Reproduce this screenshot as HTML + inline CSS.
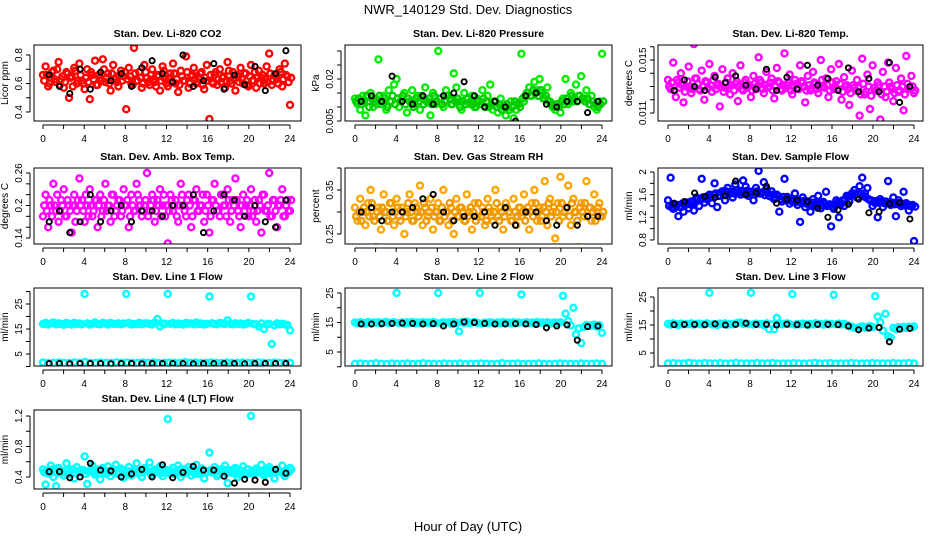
<!DOCTYPE html>
<html><head><meta charset="utf-8"><style>
body{margin:0;background:#fff}
svg{display:block;font-family:"Liberation Sans",sans-serif}
</style></head><body>
<svg id="c" width="936" height="540"></svg>
<script>
const hourTicks=[0,4,8,12,16,20,24];
const co2Color=[0.66,0.72,0.58,0.64,0.69,0.61,0.75,0.63,0.57,0.68,0.50,0.65,0.71,0.60,0.74,0.62,0.56,0.70,0.49,0.66,0.76,0.59,0.64,0.77,0.61,0.67,0.55,0.73,0.63,0.58,0.69,0.65,0.42,0.71,0.60,0.85,0.62,0.68,0.57,0.73,0.64,0.59,0.70,0.61,0.66,0.55,0.72,0.63,0.58,0.67,0.74,0.60,0.54,0.69,0.62,0.79,0.57,0.65,0.71,0.60,0.63,0.68,0.56,0.73,0.35,0.61,0.66,0.59,0.70,0.64,0.57,0.75,0.62,0.68,0.55,0.65,0.71,0.60,0.67,0.58,0.73,0.62,0.57,0.69,0.64,0.60,0.72,0.81,0.59,0.66,0.63,0.70,0.58,0.74,0.65,0.45];
const co2Color2=[0.62,0.66,0.60,0.68,0.63,0.70,0.59,0.65,0.61,0.67,0.64,0.58,0.69,0.62,0.66,0.60,0.64,0.61,0.68,0.63,0.59,0.66,0.62,0.70,0.64,0.60,0.67,0.63,0.61,0.66,0.62,0.68,0.63,0.65,0.59,0.67,0.62,0.64,0.60,0.68,0.61,0.66,0.63,0.58,0.65,0.62,0.69,0.60,0.64,0.61,0.67,0.63,0.59,0.65,0.62,0.68,0.60,0.66,0.63,0.61,0.67,0.59,0.64,0.62,0.66,0.60,0.68,0.63,0.61,0.65,0.62,0.69,0.60,0.64,0.66,0.61,0.63,0.67,0.59,0.65,0.62,0.68,0.64,0.60,0.66,0.63,0.61,0.67,0.62,0.65,0.60,0.68,0.63,0.66,0.61,0.64];
const co2Black=[0.66,0.58,0.53,0.70,0.56,0.68,0.62,0.67,0.58,0.71,0.76,0.67,0.61,0.80,0.58,0.62,0.74,0.56,0.66,0.59,0.72,0.55,0.67,0.83];
const presColor=[0.013,0.011,0.009,0.014,0.007,0.012,0.015,0.010,0.013,0.027,0.011,0.014,0.009,0.016,0.012,0.018,0.020,0.010,0.013,0.015,0.008,0.012,0.016,0.011,0.014,0.009,0.013,0.017,0.012,0.007,0.015,0.011,0.030,0.013,0.010,0.016,0.014,0.011,0.022,0.017,0.012,0.009,0.015,0.013,0.011,0.014,0.010,0.013,0.012,0.016,0.010,0.014,0.018,0.009,0.012,0.008,0.013,0.011,0.007,0.010,0.012,0.006,0.009,0.011,0.029,0.012,0.015,0.017,0.014,0.019,0.016,0.020,0.015,0.013,0.017,0.012,0.010,0.009,0.011,0.008,0.013,0.020,0.011,0.015,0.012,0.018,0.014,0.021,0.013,0.016,0.011,0.014,0.010,0.009,0.012,0.029];
const presColor2=[0.012,0.013,0.011,0.012,0.014,0.010,0.013,0.012,0.011,0.014,0.012,0.013,0.010,0.012,0.014,0.011,0.013,0.012,0.014,0.011,0.013,0.012,0.010,0.013,0.012,0.014,0.011,0.012,0.013,0.011,0.014,0.012,0.013,0.011,0.012,0.014,0.013,0.011,0.012,0.013,0.010,0.012,0.011,0.013,0.012,0.011,0.010,0.012,0.011,0.013,0.012,0.010,0.011,0.012,0.010,0.011,0.009,0.010,0.011,0.009,0.010,0.012,0.011,0.010,0.013,0.014,0.015,0.014,0.016,0.015,0.014,0.016,0.013,0.014,0.012,0.011,0.010,0.011,0.010,0.012,0.011,0.013,0.012,0.014,0.013,0.012,0.014,0.013,0.012,0.013,0.011,0.012,0.011,0.010,0.011,0.012];
const presBlack=[0.012,0.014,0.012,0.021,0.012,0.011,0.014,0.011,0.014,0.015,0.019,0.014,0.010,0.012,0.010,0.005,0.014,0.015,0.011,0.010,0.012,0.012,0.008,0.012];
const tempColor=[0.0135,0.0128,0.0148,0.0122,0.0133,0.0140,0.0118,0.0130,0.0145,0.0125,0.0162,0.0136,0.0128,0.0142,0.0120,0.0133,0.0147,0.0126,0.0138,0.0131,0.0115,0.0143,0.0129,0.0136,0.0124,0.0140,0.0132,0.0119,0.0146,0.0127,0.0135,0.0130,0.0122,0.0138,0.0128,0.0152,0.0133,0.0125,0.0141,0.0130,0.0136,0.0121,0.0144,0.0133,0.0127,0.0155,0.0131,0.0139,0.0124,0.0135,0.0129,0.0146,0.0133,0.0118,0.0138,0.0127,0.0141,0.0132,0.0125,0.0150,0.0130,0.0136,0.0122,0.0143,0.0128,0.0134,0.0147,0.0120,0.0137,0.0131,0.0116,0.0142,0.0129,0.0135,0.0108,0.0151,0.0124,0.0139,0.0113,0.0146,0.0127,0.0133,0.0105,0.0141,0.0122,0.0148,0.0130,0.0119,0.0144,0.0126,0.0136,0.0112,0.0153,0.0129,0.0138,0.0125];
const tempColor2=[0.0130,0.0133,0.0127,0.0135,0.0129,0.0131,0.0126,0.0134,0.0130,0.0128,0.0136,0.0132,0.0127,0.0130,0.0134,0.0129,0.0131,0.0135,0.0128,0.0132,0.0130,0.0126,0.0133,0.0129,0.0131,0.0127,0.0134,0.0130,0.0128,0.0133,0.0129,0.0131,0.0127,0.0132,0.0130,0.0135,0.0128,0.0131,0.0129,0.0133,0.0127,0.0130,0.0134,0.0128,0.0131,0.0129,0.0133,0.0127,0.0130,0.0132,0.0128,0.0134,0.0130,0.0127,0.0131,0.0129,0.0133,0.0128,0.0130,0.0135,0.0129,0.0131,0.0127,0.0133,0.0130,0.0128,0.0132,0.0126,0.0130,0.0128,0.0125,0.0131,0.0127,0.0129,0.0124,0.0132,0.0126,0.0130,0.0123,0.0129,0.0127,0.0131,0.0124,0.0130,0.0126,0.0133,0.0128,0.0125,0.0131,0.0127,0.0130,0.0124,0.0132,0.0128,0.0130,0.0127];
const tempBlack=[0.0127,0.0135,0.0130,0.0127,0.0137,0.0133,0.0138,0.0131,0.0128,0.0143,0.0127,0.0137,0.0128,0.0146,0.0131,0.0136,0.0127,0.0144,0.0126,0.0136,0.0126,0.0148,0.0118,0.0130];
const boxColor=[0.18,0.22,0.16,0.20,0.24,0.19,0.17,0.21,0.23,0.18,0.20,0.15,0.22,0.19,0.25,0.21,0.17,0.20,0.23,0.18,0.21,0.16,0.22,0.19,0.24,0.20,0.17,0.22,0.19,0.21,0.18,0.23,0.20,0.16,0.22,0.19,0.24,0.21,0.18,0.20,0.26,0.19,0.22,0.17,0.21,0.23,0.20,0.18,0.13,0.22,0.19,0.21,0.17,0.24,0.20,0.18,0.22,0.16,0.21,0.23,0.19,0.20,0.17,0.22,0.15,0.21,0.24,0.19,0.18,0.22,0.20,0.23,0.17,0.21,0.25,0.19,0.16,0.22,0.20,0.18,0.23,0.19,0.17,0.21,0.15,0.22,0.19,0.26,0.18,0.21,0.16,0.20,0.23,0.18,0.21,0.19];
const boxColor2=[0.20,0.19,0.21,0.18,0.20,0.22,0.19,0.20,0.18,0.21,0.19,0.20,0.17,0.21,0.20,0.19,0.22,0.18,0.20,0.19,0.21,0.20,0.18,0.21,0.19,0.20,0.22,0.18,0.20,0.21,0.19,0.20,0.21,0.18,0.20,0.19,0.22,0.20,0.19,0.21,0.18,0.20,0.21,0.19,0.20,0.18,0.22,0.20,0.19,0.21,0.20,0.18,0.20,0.22,0.19,0.21,0.20,0.18,0.21,0.19,0.20,0.22,0.19,0.20,0.18,0.21,0.20,0.19,0.22,0.20,0.18,0.21,0.19,0.20,0.21,0.18,0.20,0.19,0.21,0.20,0.18,0.21,0.19,0.20,0.22,0.19,0.20,0.18,0.21,0.19,0.20,0.21,0.18,0.20,0.19,0.21];
const boxBlack=[0.17,0.19,0.15,0.17,0.22,0.17,0.19,0.20,0.17,0.19,0.19,0.18,0.20,0.20,0.22,0.15,0.19,0.22,0.21,0.18,0.20,0.17,0.16,0.21];
const rhColor=[0.31,0.28,0.33,0.30,0.27,0.32,0.35,0.29,0.22,0.31,0.26,0.34,0.30,0.28,0.32,0.27,0.33,0.29,0.31,0.25,0.30,0.34,0.28,0.32,0.30,0.36,0.27,0.31,0.29,0.33,0.26,0.30,0.32,0.28,0.35,0.30,0.27,0.31,0.25,0.33,0.29,0.31,0.28,0.34,0.30,0.26,0.32,0.29,0.21,0.31,0.27,0.33,0.30,0.28,0.35,0.29,0.31,0.26,0.32,0.30,0.28,0.33,0.27,0.31,0.29,0.34,0.30,0.26,0.32,0.35,0.28,0.31,0.29,0.37,0.27,0.33,0.30,0.24,0.32,0.38,0.29,0.31,0.36,0.27,0.33,0.30,0.22,0.32,0.29,0.37,0.31,0.28,0.34,0.30,0.32,0.29];
const rhColor2=[0.29,0.30,0.28,0.31,0.30,0.29,0.32,0.28,0.30,0.29,0.31,0.30,0.28,0.32,0.29,0.30,0.31,0.28,0.30,0.29,0.32,0.30,0.28,0.31,0.29,0.30,0.32,0.28,0.30,0.31,0.29,0.30,0.28,0.31,0.29,0.30,0.32,0.28,0.30,0.29,0.31,0.30,0.28,0.29,0.31,0.30,0.28,0.32,0.29,0.30,0.28,0.31,0.29,0.30,0.32,0.28,0.30,0.29,0.31,0.30,0.28,0.30,0.29,0.31,0.30,0.28,0.31,0.30,0.29,0.32,0.30,0.28,0.31,0.30,0.32,0.29,0.31,0.30,0.28,0.32,0.30,0.31,0.29,0.32,0.30,0.28,0.31,0.30,0.32,0.29,0.31,0.30,0.28,0.31,0.29,0.30];
const rhBlack=[0.30,0.31,0.28,0.30,0.30,0.31,0.33,0.34,0.30,0.28,0.29,0.29,0.30,0.27,0.31,0.27,0.30,0.30,0.28,0.27,0.31,0.27,0.29,0.29];
const flowColor=[1.50,1.90,1.35,1.42,1.22,1.38,1.30,1.45,1.36,1.48,1.32,1.55,1.40,1.88,1.46,1.52,1.60,1.45,1.80,1.38,1.58,1.66,1.50,1.72,1.62,1.55,1.78,1.68,1.60,1.85,1.74,1.58,1.65,1.50,1.72,2.02,1.62,1.82,1.70,1.58,1.66,1.52,1.60,1.30,1.48,1.88,1.56,1.44,1.50,1.62,1.42,1.12,1.55,1.38,1.48,1.30,1.52,1.40,1.58,1.36,1.47,1.65,1.42,1.04,1.35,1.50,1.20,1.44,1.40,1.58,1.48,1.62,1.68,1.55,1.75,1.90,1.62,1.72,1.50,1.40,1.45,1.20,1.52,1.38,1.48,1.84,1.42,1.55,1.22,1.50,1.40,1.65,1.45,1.32,1.40,0.78];
const flowColor2=[1.40,1.38,1.36,1.42,1.39,1.44,1.41,1.46,1.43,1.48,1.46,1.52,1.50,1.55,1.53,1.58,1.56,1.60,1.62,1.58,1.64,1.61,1.66,1.63,1.65,1.62,1.68,1.64,1.66,1.61,1.67,1.63,1.65,1.60,1.66,1.62,1.64,1.59,1.63,1.57,1.60,1.55,1.58,1.52,1.56,1.50,1.54,1.49,1.52,1.47,1.50,1.46,1.49,1.44,1.47,1.43,1.46,1.42,1.45,1.41,1.44,1.40,1.43,1.39,1.42,1.46,1.44,1.50,1.52,1.56,1.58,1.62,1.60,1.64,1.61,1.58,1.55,1.52,1.50,1.47,1.49,1.46,1.48,1.45,1.47,1.44,1.46,1.43,1.45,1.42,1.44,1.41,1.43,1.40,1.42,1.39];
const flowBlack=[1.45,1.48,1.63,1.57,1.55,1.58,1.84,1.60,1.63,1.75,1.45,1.52,1.50,1.48,1.36,1.20,1.33,1.43,1.52,1.28,1.30,1.44,1.46,1.17];
const line1High=[17,17.5,16.8,17.2,17.6,16.9,17.3,17,16.7,17.4,17.1,16.8,17.5,17,17.2,16.9,29,17.3,16.8,17.1,17.6,17,16.9,17.4,17.2,16.8,17.5,17.1,17,17.3,16.9,17.2,29,17.4,16.8,17.1,17,17.5,16.9,17.2,17.3,17,16.8,17.6,19,16,17.2,17,29,17.1,17.4,16.9,17.2,17,16.8,17.5,17.1,17.3,16.9,17.6,17,17.2,16.8,17.1,28,17.3,17,16.9,17.4,17.2,17,18.5,17.1,16.9,17.3,17,17.2,16.8,17.1,17.4,28,17,16.9,16,17.2,15,16.8,17.1,9,16.5,17.3,16.9,17.1,16.8,16.6,14.5];
const line1Low=[1.6,1.4,1.5,1.7,1.5,1.4,1.6,1.5,1.8,1.4,1.5,1.6,1.5,1.4,1.7,1.5,1.6,1.5,1.4,1.6,1.5,1.7,1.4,1.5,1.6,1.5,1.4,1.8,1.5,1.6,1.4,1.5,1.7,1.5,1.4,1.6,1.5,1.5,1.6,1.4,1.5,1.7,1.5,1.4,1.6,1.5,1.4,1.5];
const line1Black=[1.2,1.2,1.1,1.2,1.2,1.2,1.1,1.2,1.2,1.1,1.2,1.2,1.2,1.2,1.1,1.2,1.2,1.2,1.2,1.1,1.2,1.2,1.2,1.2];
const line2High=[15,14.7,15.1,14.9,14.6,15.2,14.8,15,14.9,15.1,14.7,15,15.2,14.8,14.9,15.1,25,14.8,15,14.6,15.1,14.9,15.2,14.7,15,14.8,15.1,14.9,15,14.7,15.2,14.9,25,14.8,15.1,14.9,15,14.6,15.2,14.8,12,15.1,14.9,15.3,14.8,15,15.2,14.9,25,14.7,15,14.8,15.1,14.9,14.6,15,14.8,15.2,14.9,15,14.7,15.1,14.8,15,24.5,14.9,15.1,14.8,15,14.7,15.2,14.9,15,14.8,15.1,14.6,14.9,15,14.8,15.1,24,18,15.5,14,20,11,13,8,13.5,14.2,13.8,14,14.3,13.6,14.1,11.5];
const line2Low=[1,1.1,0.9,1,1.2,1,0.9,1.1,1,1,1.1,0.9,1,1.2,1,1,0.9,1.1,1,1,1.1,0.9,1,1,1.1,1,0.9,1,1.2,1,1,1.1,0.9,1,1,1.1,1,0.9,1,1.1,1,1,0.9,1.1,1,1,1.1,1];
const line2Black=[14.5,14.5,14.6,14.7,14.8,14.7,14.5,14.6,13.8,14.5,15.2,15,14.7,14.5,14.5,14.6,14.5,14.3,13.2,13.8,14.2,9,13.6,13.8];
const line3High=[15.4,15.1,15.6,15.3,15.0,15.5,15.2,15.4,15.3,15.6,15.1,15.4,15.5,15.2,15.3,15.6,26.5,15.2,15.4,15.0,15.5,15.3,15.6,15.1,15.4,15.2,15.5,15.8,15.9,15.4,15.6,15.3,26.5,15.2,15.5,15.3,15.4,15.0,15.6,13.5,15.2,13.5,17.5,15.6,15.2,15.4,15.6,15.3,26,15.1,15.4,15.2,15.5,15.3,15.0,15.4,15.2,15.6,15.3,15.4,15.1,15.5,15.2,15.4,25.8,15.3,15.5,15.2,15.4,15.1,14.6,14.3,14.0,13.8,14.2,14.5,14.0,14.4,14.6,14.3,25.3,18,16,13,19,11,10.5,14,13.5,14.2,13.8,14.3,13.9,14.4,14.1,14.5];
const line3Low=[1.3,1.4,1.2,1.3,1.5,1.3,1.2,1.4,1.3,1.3,1.4,1.2,1.3,1.5,1.3,1.3,1.2,1.4,1.3,1.3,1.4,1.2,1.3,1.3,1.4,1.3,1.2,1.3,1.5,1.3,1.3,1.4,1.2,1.3,1.3,1.4,1.3,1.2,1.3,1.4,1.3,1.3,1.2,1.4,1.3,1.3,1.4,1.3];
const line3Black=[15.1,15.2,15.2,15.1,15.4,15.0,15.2,15.6,15.2,15.2,15.0,15.3,15.1,15.0,15.2,15.2,15.1,14.6,13.3,13.9,14.1,9,13.5,13.8];
const ltColor=[0.50,0.30,0.45,0.55,0.40,0.28,0.52,0.47,0.42,0.58,0.44,0.50,0.38,0.53,0.46,0.49,0.67,0.31,0.48,0.55,0.43,0.50,0.37,0.52,0.46,0.54,0.41,0.49,0.56,0.44,0.51,0.39,0.47,0.53,0.42,0.50,0.58,0.45,0.40,0.52,0.48,0.59,0.43,0.50,0.46,0.54,0.41,0.49,1.16,0.44,0.52,0.47,0.55,0.40,0.50,0.45,0.53,0.42,0.48,0.56,0.44,0.51,0.38,0.47,0.72,0.46,0.53,0.41,0.50,0.47,0.55,0.32,0.49,0.45,0.52,0.40,0.48,0.54,0.43,0.50,1.20,0.44,0.51,0.46,0.56,0.42,0.49,0.53,0.45,0.38,0.50,0.47,0.55,0.41,0.48,0.52];
const ltColor2=[0.46,0.48,0.44,0.50,0.47,0.45,0.49,0.46,0.48,0.44,0.47,0.50,0.45,0.48,0.46,0.49,0.44,0.47,0.50,0.46,0.48,0.45,0.49,0.47,0.44,0.48,0.46,0.50,0.45,0.47,0.49,0.46,0.48,0.44,0.47,0.50,0.45,0.48,0.46,0.49,0.47,0.44,0.48,0.46,0.50,0.45,0.47,0.49,0.46,0.48,0.44,0.47,0.50,0.45,0.48,0.46,0.49,0.47,0.44,0.48,0.46,0.50,0.45,0.47,0.49,0.46,0.48,0.44,0.47,0.50,0.45,0.48,0.46,0.49,0.47,0.44,0.48,0.46,0.50,0.45,0.47,0.49,0.46,0.48,0.44,0.47,0.50,0.45,0.48,0.46,0.49,0.47,0.44,0.48,0.46,0.50];
const ltBlack=[0.47,0.47,0.39,0.40,0.58,0.49,0.48,0.40,0.44,0.50,0.40,0.56,0.39,0.46,0.54,0.49,0.49,0.41,0.32,0.37,0.36,0.33,0.50,0.45];

const svg=document.getElementById('c');
const NS='http://www.w3.org/2000/svg';
function mk(tag,attrs,parent){const e=document.createElementNS(NS,tag);for(const k in attrs)e.setAttribute(k,attrs[k]);(parent||svg).appendChild(e);return e;}
function txt(s,x,y,size,parent,extra){const t=mk('text',Object.assign({x:x,y:y,'font-size':size,'text-anchor':'middle'},extra||{}),parent);t.textContent=s;return t;}

const cols=[[34,301,43,290],[345,612,355,602],[658,923,668,914]];
const rows=[[45,121],[168,244],[288,366],[410,489]];

function panel(name,title,ytitle,c,r,v1,p1,v2,p2,ticks,labels,series){
  const [L,R,x0,x24]=cols[c];const [T,B]=rows[r];
  const g=mk('g',{});
  
  
  const xs=h=>x0+(x24-x0)*h/24;
  const ys=v=>p1+(v-v1)*(p2-p1)/(v2-v1);
  const clipId='clip-'+name;
  const cp=mk('clipPath',{id:clipId},g);mk('rect',{x:L,y:T,width:R-L,height:B-T},cp);
  const pts=mk('g',{'clip-path':'url(#'+clipId+')'},g);
  series.forEach(s=>{
    const off=s.offset||0;
    s.data.forEach((v,i)=>{
      const h=s.black?(i+0.6):(i*24/(s.data.length-1)+off);
      const ci=mk('circle',{cx:xs(h).toFixed(1),cy:ys(v).toFixed(1),r:s.black?2.6:3,fill:'none',stroke:s.color,'stroke-width':s.black?1.9:2.4},pts);
      
      
    });
  });
  const box=mk('rect',{x:L,y:T,width:R-L,height:B-T,fill:'none',stroke:'#000','stroke-width':1},g);
  
  
  const tt=txt(title,(L+R)/2,T-8,10.5,g,{'font-weight':'bold'});
  
  
  mk('line',{x1:x0,y1:B+4,x2:x24,y2:B+4,stroke:'#000'},g);
  for(let h=0;h<=24;h+=2){mk('line',{x1:xs(h),y1:B+4,x2:xs(h),y2:B+8,stroke:'#000'},g);}
  hourTicks.forEach(h=>{const t=txt(String(h),xs(h),B+21,10,g);});
  const ax=L-4;
  mk('line',{x1:ax,y1:ys(ticks[0]),x2:ax,y2:ys(ticks[ticks.length-1]),stroke:'#000'},g);
  ticks.forEach(v=>{mk('line',{x1:ax-4,y1:ys(v),x2:ax,y2:ys(v),stroke:'#000'},g);});
  labels.forEach(v=>{const y=ys(v);const t=txt(String(v),ax-8,y,10,g,{transform:'rotate(-90 '+(ax-8)+' '+y+')'});});
  const yt=txt(ytitle,L-26,(T+B)/2,10,g,{transform:'rotate(-90 '+(L-26)+' '+((T+B)/2)+')'});
  
  
}

panel('co2-panel','Stan. Dev. Li-820 CO2','Licor ppm',0,0,0.4,112,0.8,55,[0.4,0.5,0.6,0.7,0.8],[0.4,0.6,0.8],[{data:co2Color,color:'#ff0000'},{data:co2Color2,color:'#ff0000',offset:0.12},{data:co2Black,color:'#000',black:1}]);
panel('pressure-panel','Stan. Dev. Li-820 Pressure','kPa',1,0,0.005,121,0.020,79,[0.005,0.010,0.015,0.020,0.025,0.030],['0.005','0.020'].map(Number),[{data:presColor,color:'#00ee00'},{data:presColor2,color:'#00cc00',offset:0.12},{data:presBlack,color:'#000',black:1}]);
panel('temp-panel','Stan. Dev. Li-820 Temp.','degrees C',2,0,0.011,113,0.015,60,[0.011,0.012,0.013,0.014,0.015,0.016],[0.011,0.015],[{data:tempColor,color:'#ff00ff'},{data:tempColor2,color:'#ff00ff',offset:0.12},{data:tempBlack,color:'#000',black:1}]);
panel('box-temp-panel','Stan. Dev. Amb. Box Temp.','degrees C',0,1,0.14,238,0.26,173,[0.14,0.16,0.18,0.20,0.22,0.24,0.26],[0.14,0.20,0.26],[{data:boxColor,color:'#ff00ff'},{data:boxColor2,color:'#ff00ff',offset:0.12},{data:boxBlack,color:'#000',black:1}]);
panel('rh-panel','Stan. Dev. Gas Stream RH','percent',1,1,0.25,234,0.35,190,[0.25,0.30,0.35,0.40],[0.25,0.35],[{data:rhColor,color:'#ffa500'},{data:rhColor2,color:'#ee9900',offset:0.12},{data:rhBlack,color:'#000',black:1}]);
panel('sample-flow-panel','Stan. Dev. Sample Flow','ml/min',2,1,0.8,240,2.0,172,[0.8,1.0,1.2,1.4,1.6,1.8,2.0],[0.8,1.2,1.6,2.0],[{data:flowColor,color:'#0000ff'},{data:flowColor2,color:'#0000ff',offset:0.12},{data:flowBlack,color:'#000',black:1}]);
panel('line1-panel','Stan. Dev. Line 1 Flow','ml/min',0,2,5,354,25,304,[0,5,10,15,20,25,30],[5,15,25],[{data:line1High,color:'#00ffff'},{data:line1Low,color:'#00ffff'},{data:line1Black,color:'#000',black:1}]);
panel('line2-panel','Stan. Dev. Line 2 Flow','ml/min',1,2,5,352,25,293,[0,5,10,15,20,25],[5,15,25],[{data:line2High,color:'#00ffff'},{data:line2Low,color:'#00ffff'},{data:line2Black,color:'#000',black:1}]);
panel('line3-panel','Stan. Dev. Line 3 Flow','ml/min',2,2,5,353,25,297,[0,5,10,15,20,25],[5,15,25],[{data:line3High,color:'#00ffff'},{data:line3Low,color:'#00ffff'},{data:line3Black,color:'#000',black:1}]);
panel('line4-panel','Stan. Dev. Line 4 (LT) Flow','ml/min',0,3,0.4,477,1.2,416,[0.4,0.6,0.8,1.0,1.2],[0.4,0.8,1.2],[{data:ltColor,color:'#00ffff'},{data:ltColor2,color:'#00ffff',offset:0.12},{data:ltBlack,color:'#000',black:1}]);

const mt=txt('NWR_140129  Std. Dev. Diagnostics',468,14,13,svg,{'xml:space':'preserve'});


const xl=txt('Hour of Day (UTC)',468,531,13);


</script>
</body></html>
